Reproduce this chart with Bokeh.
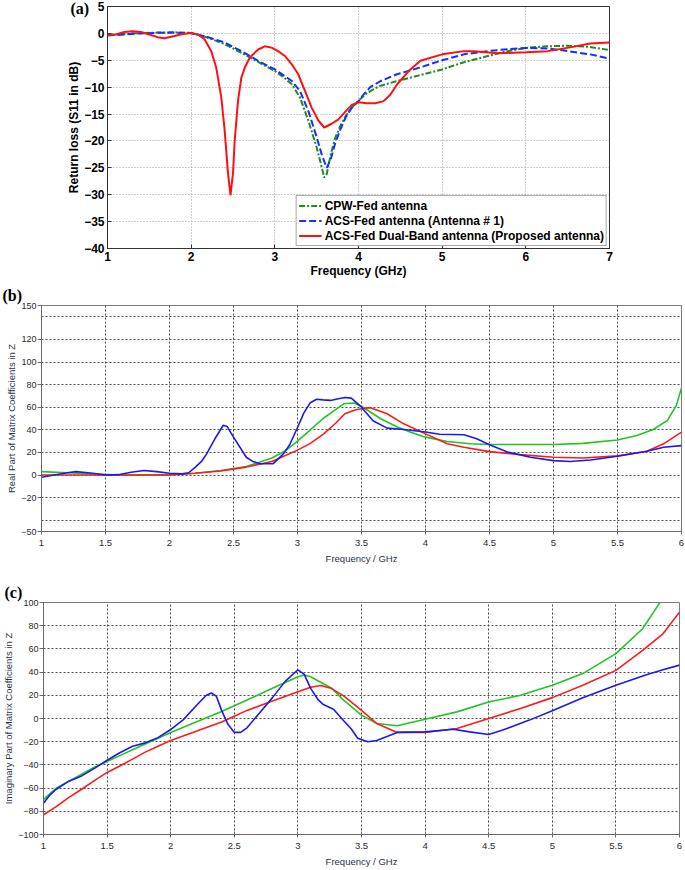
from bokeh.plotting import figure
from bokeh.models import (FixedTicker, Legend, LegendItem, Range1d,
                          CustomJSTickFormatter)
from bokeh.layouts import column
from bokeh.embed import file_html
from bokeh.resources import INLINE

# ---------------- Panel (a): Return loss S11 (dB) ----------------
a_cpw_x = [1.0, 1.2, 1.4, 1.6, 1.8, 2.0, 2.2, 2.4, 2.6, 2.8, 3.0, 3.1, 3.2, 3.3, 3.4,
           3.5, 3.55, 3.59, 3.62, 3.67, 3.72, 3.78, 3.85, 3.92, 4.0, 4.1, 4.25, 4.45,
           4.7, 5.0, 5.25, 5.5, 5.75, 6.0, 6.25, 6.5, 6.75, 7.0]
a_cpw_y = [-0.3, -0.1, 0.05, 0.15, 0.2, 0.1, -0.8, -2.0, -3.6, -5.3, -7.0, -8.1, -9.4,
           -11.9, -16.2, -21.2, -24.2, -26.8, -26.2, -22.4, -19.5, -17.3, -15.3, -13.8,
           -12.5, -11.1, -9.8, -8.9, -7.9, -6.7, -5.4, -4.4, -3.4, -2.7, -2.4, -2.3, -2.5,
           -3.1]

a_acs_x = [1.0, 1.2, 1.4, 1.6, 1.8, 2.0, 2.2, 2.4, 2.6, 2.8, 3.0, 3.2, 3.3, 3.4, 3.5,
           3.56, 3.62, 3.67, 3.72, 3.78, 3.85, 3.92, 4.0, 4.06, 4.14, 4.26, 4.46, 4.66,
           5.0, 5.26, 5.54, 5.8, 6.0, 6.26, 6.46, 6.77, 7.0]
a_acs_y = [-0.4, -0.2, 0.0, 0.1, 0.15, 0.05, -0.7, -1.7, -3.3, -5.1, -6.7, -8.8, -10.7,
           -14.4, -19.3, -22.5, -25.0, -23.3, -20.5, -18.0, -15.5, -13.8, -12.6, -11.4,
           -10.0, -8.9, -7.6, -6.7, -5.0, -3.9, -3.3, -2.9, -2.7, -2.8, -3.2, -3.9, -4.7]

a_dual_x = [1.0, 1.1, 1.2, 1.3, 1.4, 1.5, 1.6, 1.68, 1.8, 1.9, 2.0, 2.08, 2.16, 2.24,
            2.3, 2.36, 2.4, 2.44, 2.47, 2.5, 2.52, 2.56, 2.6, 2.64, 2.7, 2.8, 2.88, 2.96,
            3.04, 3.12, 3.2, 3.28, 3.36, 3.44, 3.52, 3.59, 3.68, 3.76, 3.84, 3.92, 4.0,
            4.1, 4.2, 4.3, 4.38, 4.46, 4.6, 4.74, 5.0, 5.26, 5.38, 5.66, 6.0, 6.26, 6.53,
            6.77, 7.0]
a_dual_y = [-0.3, -0.2, 0.25, 0.4, 0.25, -0.2, -0.7, -0.9, -0.5, -0.1, 0.05, -0.2, -1.1,
            -3.3, -6.4, -11.9, -18.0, -26.0, -30.1, -26.0, -20.0, -12.5, -8.2, -6.4, -4.5,
            -3.0, -2.4, -2.65, -3.3, -4.2, -5.7, -7.6, -10.7, -13.8, -16.2, -17.5, -16.8,
            -16.0, -14.6, -13.3, -12.8, -13.0, -13.0, -12.6, -11.4, -9.5, -7.0, -5.1, -3.9,
            -3.3, -3.3, -3.7, -3.5, -3.3, -2.6, -1.9, -1.7]

a_xticks = [1, 2, 3, 4, 5, 6, 7]
a_yticks = [5, 0, -5, -10, -15, -20, -25, -30, -35, -40]
a_labels = ["CPW-Fed antenna", "ACS-Fed antenna (Antenna # 1)",
            "ACS-Fed Dual-Band antenna (Proposed antenna)"]

# ---------------- Panel (b): Real part of Z ----------------
b_blue_x = [1.0, 1.1, 1.2, 1.27, 1.4, 1.5, 1.6, 1.7, 1.8, 1.9, 2.0, 2.1, 2.15, 2.2, 2.25,
            2.29, 2.36, 2.42, 2.45, 2.5, 2.6, 2.65, 2.71, 2.81, 2.89, 2.94, 3.0, 3.05,
            3.1, 3.15, 3.2, 3.26, 3.3, 3.37, 3.42, 3.5, 3.59, 3.7, 3.83, 4.0, 4.11, 4.3,
            4.4, 4.5, 4.64, 4.82, 5.0, 5.13, 5.29, 5.5, 5.73, 5.86, 6.0]
b_blue_y = [-2, 0, 2, 3, 1.5, 0, 0.3, 2.5, 4, 3, 1.5, 1, 2, 6.8, 12, 18.7, 33, 44, 43,
            33.5, 15.7, 12, 10, 10, 18.7, 27, 42, 55, 64, 67, 66.5, 66, 67, 68.6, 68, 60,
            48, 41.5, 40.3, 38, 36, 35.6, 32, 26.7, 20.3, 15.7, 12.7, 11.9, 13.3, 16.6,
            21, 24.6, 26]

b_green_x = [1.0, 1.2, 1.4, 1.6, 1.8, 2.0, 2.2, 2.4, 2.6, 2.8, 2.9, 3.0, 3.1, 3.2, 3.3,
             3.36, 3.44, 3.5, 3.65, 3.78, 3.88, 4.0, 4.17, 4.35, 4.5, 5.0, 5.23, 5.5,
             5.65, 5.78, 5.89, 5.96, 6.0]
b_green_y = [3, 2, 1, 0, 0, 0.3, 1.5, 4, 7.5, 15, 21, 30, 40, 50, 58, 63, 63.7, 60.8,
             49.8, 42.4, 38, 33.5, 29.6, 27.6, 27, 27, 28, 31, 35, 40.3, 48.3, 61.6, 77]

b_red_x = [1.0, 1.5, 2.0, 2.2, 2.4, 2.6, 2.8, 3.0, 3.1, 3.2, 3.3, 3.37, 3.45, 3.5, 3.57,
           3.7, 3.83, 4.0, 4.17, 4.3, 4.5, 4.74, 5.0, 5.23, 5.5, 5.73, 5.86, 6.0]
b_red_y = [0, 0, 0, 1.5, 3.5, 7, 12, 22, 28, 36, 46, 54.2, 57.5, 58.7, 59.6, 54.2, 45.3,
           36.4, 27.6, 24.6, 20.7, 18, 15.7, 15.1, 16.9, 21, 27.6, 38]

b_yticks = [150, 120, 100, 80, 60, 40, 20, 0, -20, -50]
b_ygrid = [140, 120, 100, 80, 60, 40, 20, 0, -20, -40]

# ---------------- Panel (c): Imaginary part of Z ----------------
c_blue_x = [1.0, 1.05, 1.1, 1.2, 1.3, 1.4, 1.5, 1.6, 1.7, 1.8, 1.9, 2.0, 2.1, 2.2, 2.28,
            2.32, 2.36, 2.4, 2.45, 2.5, 2.55, 2.6, 2.7, 2.8, 2.9, 3.0, 3.05, 3.1, 3.16,
            3.2, 3.28, 3.36, 3.42, 3.47, 3.55, 3.62, 3.78, 4.0, 4.22, 4.35, 4.5, 4.61,
            4.82, 5.0, 5.24, 5.5, 5.74, 5.87, 6.0]
c_blue_y = [-73, -66, -61, -54, -49.5, -43, -36, -29.5, -24, -21, -16.5, -9.5, -1, 11,
            20, 22, 19, 7, -5, -12, -12, -8, 5, 18, 32, 42, 38, 26, 16, 12, 8, -2, -9,
            -17, -20, -19, -12, -11.5, -9.2, -11.5, -13.8, -10, -1.4, 6.6, 17.8, 28.6,
            37.8, 42, 46]

c_green_x = [1.0, 1.1, 1.2, 1.3, 1.4, 1.5, 1.6, 1.7, 1.8, 1.9, 2.0, 2.2, 2.4, 2.6, 2.8,
             2.9, 3.0, 3.05, 3.1, 3.2, 3.26, 3.36, 3.5, 3.62, 3.78, 4.0, 4.25, 4.5, 4.75,
             5.0, 5.24, 5.5, 5.71, 5.84, 5.9]
c_green_y = [-70, -60, -54, -48, -42, -37, -32, -27, -22, -17, -12, -3, 6, 16, 26, 31,
             36, 37.5, 36, 30, 26.6, 15.8, 2.9, -4.3, -6.3, -0.6, 5.7, 14.3, 20, 28.6,
             38.7, 55.9, 77.4, 99, 108]

c_red_x = [1.0, 1.1, 1.2, 1.3, 1.4, 1.5, 1.6, 1.7, 1.8, 1.9, 2.0, 2.2, 2.4, 2.5, 2.6,
           2.8, 3.0, 3.1, 3.18, 3.26, 3.36, 3.5, 3.62, 3.78, 4.0, 4.25, 4.5, 4.75, 5.0,
           5.24, 5.5, 5.71, 5.87, 6.0]
c_red_y = [-83, -76, -68, -61, -53.5, -46.5, -41, -35, -29, -24, -19, -11, -3, 2, 7, 15,
           23, 27, 28.5, 26, 19.5, 7, -4.3, -12, -12, -8.6, 0, 8.6, 18, 28.6, 41.5, 58.7,
           73, 91.7]

c_yticks = [100, 80, 60, 40, 20, 0, -20, -40, -60, -80, -100]
c_ygrid = [80, 60, 40, 20, 0, -20, -40, -60, -80]

bc_xticks = [1, 1.5, 2, 2.5, 3, 3.5, 4, 4.5, 5, 5.5, 6]
bc_xgrid = [1.5, 2, 2.5, 3, 3.5, 4, 4.5, 5, 5.5]

W = 684
SANS = "Liberation Sans"
SERIF = "Liberation Serif"

# ---------------- figure (a) ----------------
pa = figure(width=W, height=283, x_range=Range1d(1, 7), y_range=Range1d(-40, 5),
            output_backend="svg", toolbar_location=None, frame_align=False,
            min_border_left=107, min_border_right=75, min_border_top=6,
            min_border_bottom=35)
pa.background_fill_color = "white"
pa.border_fill_color = "white"
pa.outline_line_color = "#333333"
pa.outline_line_width = 1

r1 = pa.line(a_cpw_x, a_cpw_y, line_color="#1f8a1f", line_width=2, line_dash="6 2 2 2")
r2 = pa.line(a_acs_x, a_acs_y, line_color="#1430ff", line_width=2, line_dash="7 3")
r3 = pa.line(a_dual_x, a_dual_y, line_color="#ff1010", line_width=2)

pa.xaxis.ticker = FixedTicker(ticks=a_xticks)
pa.yaxis.ticker = FixedTicker(ticks=a_yticks)
for ax in (pa.xaxis[0], pa.yaxis[0]):
    ax.major_tick_in = 4
    ax.major_tick_out = 0
    ax.minor_tick_line_color = None
    ax.axis_line_color = "#333333"
    ax.major_tick_line_color = "#333333"
    ax.major_label_text_font = SANS
    ax.major_label_text_font_style = "bold"
    ax.major_label_text_font_size = "12px"
    ax.major_label_text_color = "black"
    ax.axis_label_text_font = SANS
    ax.axis_label_text_font_style = "bold"
    ax.axis_label_text_font_size = "12px"
    ax.axis_label_text_color = "black"
pa.xaxis.axis_label = "Frequency (GHz)"
pa.yaxis.axis_label = "Return loss (S11 in dB)"
pa.xaxis.major_label_standoff = 3
pa.xaxis.axis_label_standoff = 0
pa.yaxis.major_label_standoff = 3
pa.yaxis.axis_label_standoff = 0
pa.grid.grid_line_color = "#9a9a9a"
pa.grid.grid_line_dash = "1 2"
pa.grid.grid_line_width = 1

legend = Legend(items=[LegendItem(label=a_labels[0], renderers=[r1]),
                       LegendItem(label=a_labels[1], renderers=[r2]),
                       LegendItem(label=a_labels[2], renderers=[r3])],
                location="bottom_right")
legend.margin = 2
legend.padding = 2
legend.spacing = 0
legend.glyph_width = 23
legend.glyph_height = 15
legend.label_height = 15
legend.label_standoff = 3
legend.label_text_font = SANS
legend.label_text_font_style = "bold"
legend.label_text_font_size = "12px"
legend.label_text_color = "black"
legend.border_line_color = "#555555"
legend.border_line_width = 1
legend.background_fill_color = "white"
legend.background_fill_alpha = 1.0
pa.add_layout(legend)

# panel tag "(a)" sits beside the top of the frame
pa.title.text = "(a)"
pa.title.align = "left"
pa.title.offset = -37
pa.title.standoff = -20
pa.title.text_font = SERIF
pa.title.text_font_style = "bold"
pa.title.text_font_size = "16px"
pa.title.text_color = "black"


def style_cst(p, tag, ylabel, yticks, ygrid, standoff):
    p.background_fill_color = "white"
    p.border_fill_color = "white"
    p.outline_line_color = "#7a7a7a"
    p.outline_line_width = 1
    p.title.text = tag
    p.title.align = "left"
    p.title.offset = -39
    p.title.standoff = standoff
    p.title.text_font = SERIF
    p.title.text_font_style = "bold"
    p.title.text_font_size = "16px"
    p.title.text_color = "black"
    p.xaxis.ticker = FixedTicker(ticks=bc_xticks)
    p.xaxis.formatter = CustomJSTickFormatter(code="return String(tick);")
    p.yaxis.ticker = FixedTicker(ticks=yticks)
    p.xgrid.ticker = FixedTicker(ticks=bc_xgrid)
    p.ygrid.ticker = FixedTicker(ticks=ygrid)
    p.grid.grid_line_color = "#4a4a4a"
    p.grid.grid_line_dash = "2 2"
    p.grid.grid_line_width = 1
    for ax in (p.xaxis[0], p.yaxis[0]):
        ax.minor_tick_line_color = None
        ax.axis_line_color = "#6a6a6a"
        ax.major_tick_line_color = "#6a6a6a"
        ax.major_label_text_font = SANS
        ax.major_label_text_font_style = "normal"
        ax.major_label_text_font_size = "9.5px"
        ax.major_label_text_color = "#2a2a2a"
        ax.axis_label_text_font = SANS
        ax.axis_label_text_font_style = "normal"
        ax.axis_label_text_font_size = "9.5px"
        ax.axis_label_text_color = "#2a3348"
    p.yaxis.major_label_text_font_size = "9px"
    p.xaxis.major_tick_in = 3
    p.xaxis.major_tick_out = 3
    p.yaxis.major_tick_in = 0
    p.yaxis.major_tick_out = 4
    p.xaxis.major_label_standoff = 5
    p.yaxis.major_label_standoff = 1
    p.xaxis.axis_label = "Frequency / GHz"
    p.xaxis.axis_label_standoff = 4
    p.yaxis.axis_label = ylabel
    p.yaxis.axis_label_standoff = 1


# ---------------- figure (b) ----------------
pb = figure(width=W, height=289, x_range=Range1d(1, 6), y_range=Range1d(-50, 150),
            output_backend="svg", toolbar_location=None, frame_align=False,
            min_border_left=41, min_border_right=3, min_border_top=22,
            min_border_bottom=41)
style_cst(pb, "(b)", "Real Part of Matrix Coefficients in Z", b_yticks, b_ygrid, 3)
pb.line(b_green_x, b_green_y, line_color="#22c422", line_width=1.6)
pb.line(b_red_x, b_red_y, line_color="#ff1a1a", line_width=1.6)
pb.line(b_blue_x, b_blue_y, line_color="#1a1aee", line_width=1.6)

# ---------------- figure (c) ----------------
pc = figure(width=W, height=297, x_range=Range1d(1, 6), y_range=Range1d(-100, 100),
            output_backend="svg", toolbar_location=None, frame_align=False,
            min_border_left=41, min_border_right=5, min_border_top=30,
            min_border_bottom=35)
style_cst(pc, "(c)", "Imaginary Part of Matrix Coefficients in Z", c_yticks, c_ygrid, 4)
pc.line(c_green_x, c_green_y, line_color="#22c422", line_width=1.6)
pc.line(c_red_x, c_red_y, line_color="#ff1a1a", line_width=1.6)
pc.line(c_blue_x, c_blue_y, line_color="#1a1aee", line_width=1.6)

layout = column(pa, pb, pc, spacing=0)
open("out.html", "w").write(file_html(layout, INLINE))
